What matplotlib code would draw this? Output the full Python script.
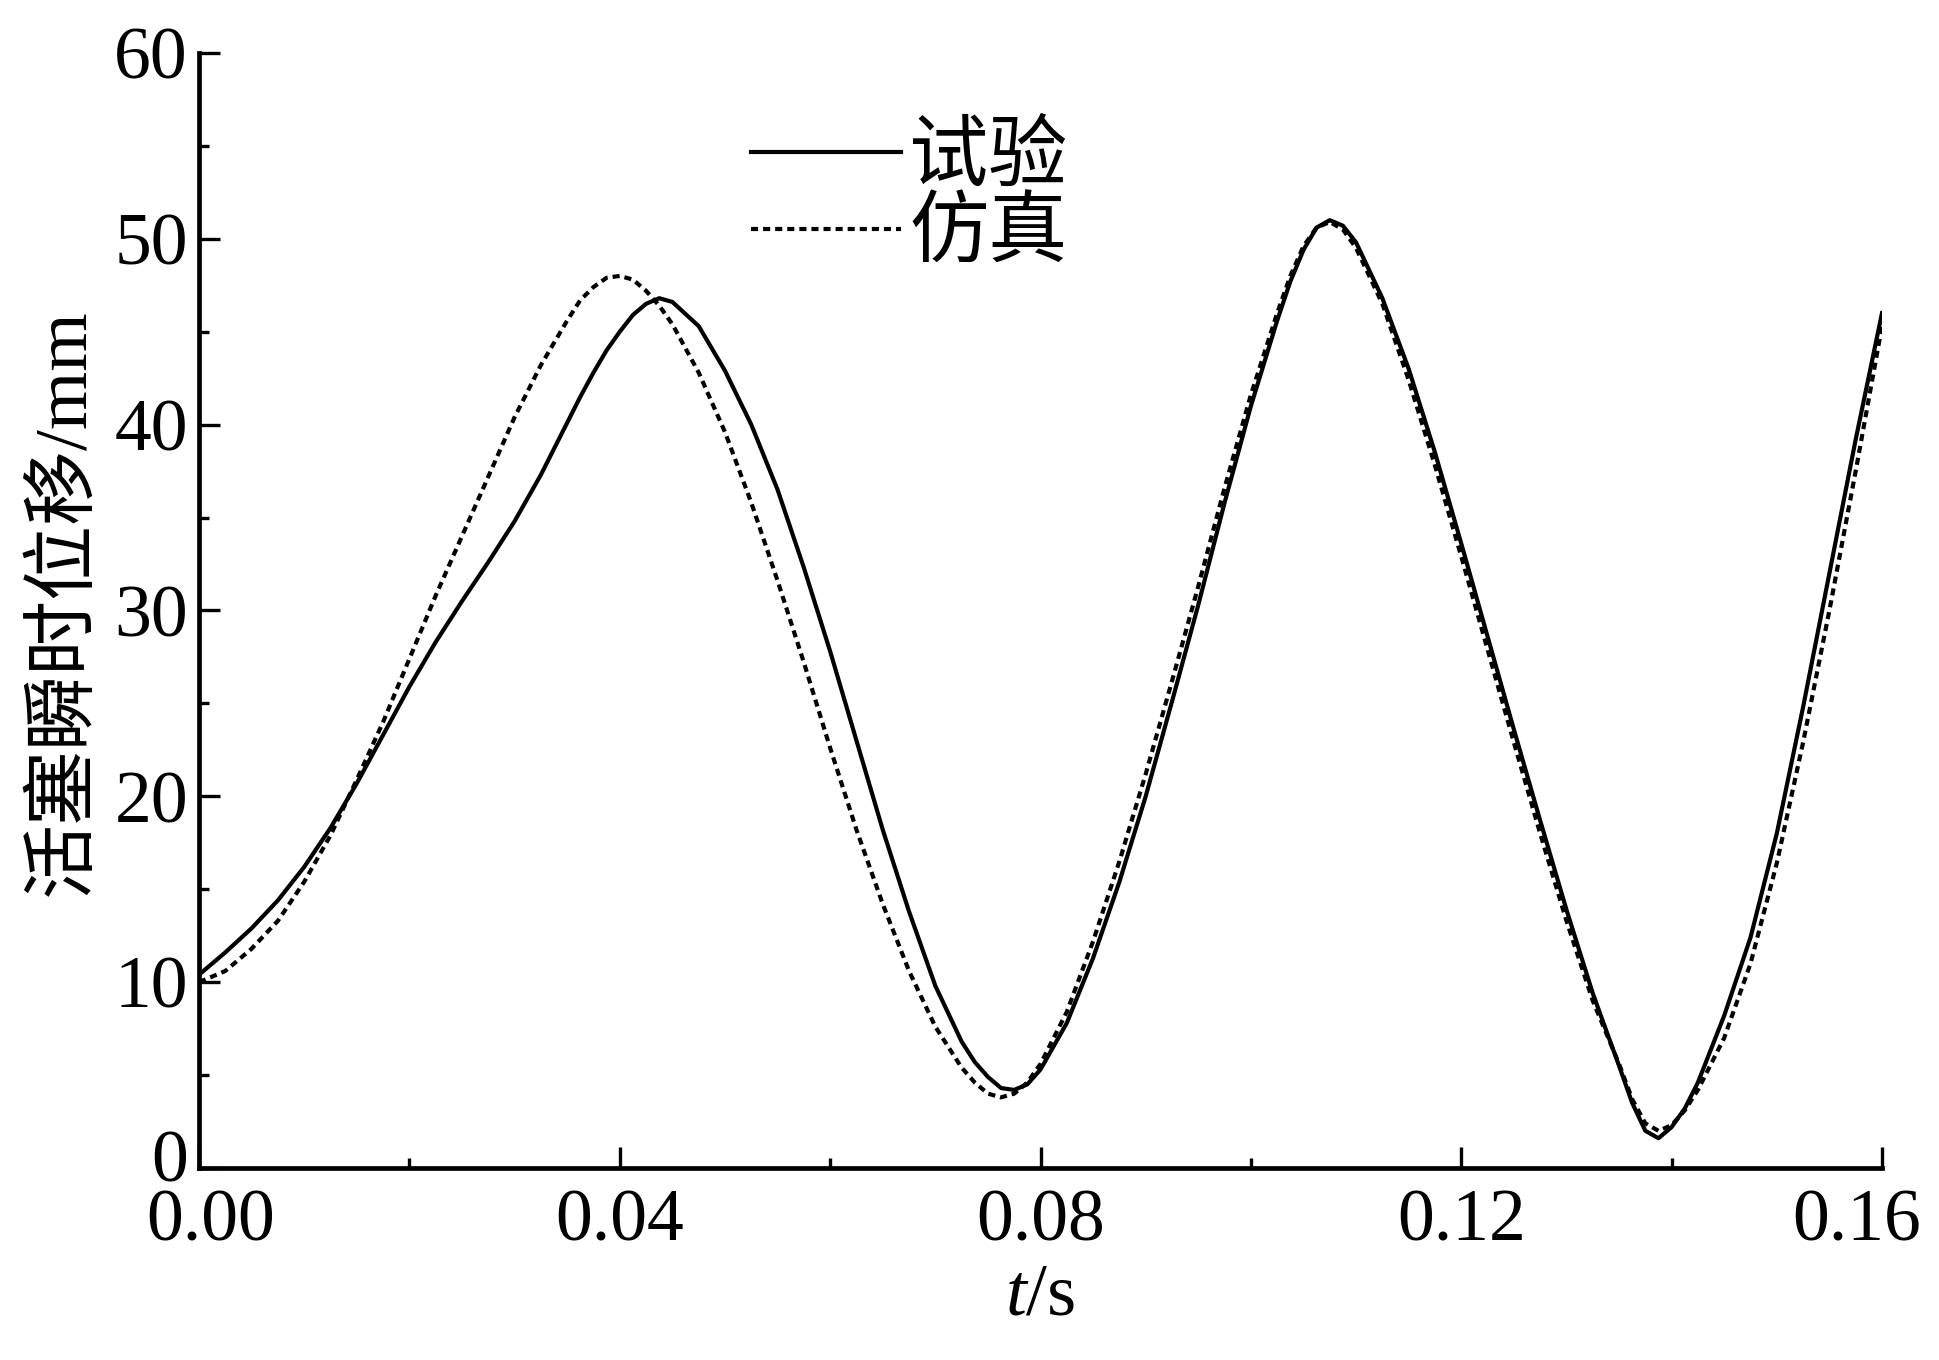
import numpy as np
import matplotlib
matplotlib.use("Agg")
import matplotlib.pyplot as plt
import matplotlib.transforms as mtransforms
from matplotlib.ticker import MultipleLocator, FormatStrFormatter

# ── Data ──────────────────────────────────────────────────────────────────────
t_s = [0.0, 0.0025, 0.005, 0.0075, 0.01, 0.0125, 0.015, 0.0175, 0.02, 0.0225,
       0.025, 0.0275, 0.03, 0.0325, 0.035, 0.03625, 0.0375, 0.03875, 0.04, 0.04125,
       0.0425, 0.04375, 0.045, 0.0475, 0.05, 0.0525, 0.055, 0.0575, 0.06, 0.0625,
       0.065, 0.0675, 0.07, 0.0725, 0.07375, 0.075, 0.07625, 0.0775, 0.07875, 0.08,
       0.0825, 0.085, 0.0875, 0.09, 0.0925, 0.095, 0.0975, 0.1, 0.1025, 0.10375,
       0.105, 0.10625, 0.1075, 0.10875, 0.11, 0.1125, 0.115, 0.1175, 0.12, 0.1225,
       0.125, 0.1275, 0.13, 0.1325, 0.135, 0.13625, 0.1375, 0.13875, 0.14, 0.14125,
       0.1425, 0.145, 0.1475, 0.15, 0.1525, 0.155, 0.1575, 0.16]

test_mm = [10.4, 11.6, 12.9, 14.4, 16.2, 18.3, 20.7, 23.3, 25.9, 28.3,
           30.5, 32.6, 34.8, 37.3, 40.1, 41.5, 42.8, 44.0, 45.0, 45.9,
           46.5, 46.8, 46.6, 45.3, 42.9, 40.0, 36.5, 32.3, 27.8, 23.0,
           18.2, 13.8, 9.8, 6.8, 5.7, 4.9, 4.3, 4.2, 4.5, 5.3,
           7.8, 11.3, 15.4, 20.0, 25.1, 30.3, 35.8, 41.0, 45.6, 47.7,
           49.4, 50.6, 51.0, 50.7, 49.8, 46.8, 43.0, 38.5, 33.6, 28.6,
           23.6, 18.7, 13.9, 9.4, 5.5, 3.5, 2.0, 1.6, 2.2, 3.2,
           4.6, 8.2, 12.4, 18.0, 24.8, 32.0, 39.2, 46.0]

sim_mm = [10.0, 10.6, 11.8, 13.3, 15.4, 17.9, 20.9, 24.0, 27.4, 30.8,
          34.0, 37.2, 40.4, 43.2, 45.6, 46.7, 47.4, 47.9, 48.0, 47.8,
          47.2, 46.4, 45.4, 42.8, 39.6, 35.8, 31.6, 27.2, 22.6, 18.2,
          14.2, 10.6, 7.6, 5.4, 4.6, 4.0, 3.8, 4.0, 4.6, 5.6,
          8.4, 12.2, 16.5, 21.2, 26.2, 31.3, 36.6, 41.6, 46.0, 48.0,
          49.6, 50.6, 50.9, 50.5, 49.5, 46.5, 42.4, 37.8, 32.9, 27.9,
          22.9, 18.0, 13.3, 9.0, 5.6, 3.7, 2.4, 2.0, 2.3, 3.1,
          4.2, 7.0, 11.0, 16.4, 22.9, 30.0, 37.5, 45.3]

labels = ["试验", "仿真"]
x_ticks = [0.00, 0.04, 0.08, 0.12, 0.16]
y_ticks = [0, 10, 20, 30, 40, 50, 60]

# ── Style ─────────────────────────────────────────────────────────────────────
FONTS = ["Liberation Serif", "Noto Sans CJK SC"]
plt.rcParams["font.family"] = FONTS
plt.rcParams["mathtext.fontset"] = "custom"
plt.rcParams["mathtext.it"] = "Liberation Serif:italic"
plt.rcParams["mathtext.rm"] = "Liberation Serif"

fig = plt.figure(figsize=(19.4, 13.6), dpi=100)
ax = fig.add_axes([0.1026, 0.1412, 0.8675, 0.8199])

ax.plot(t_s, test_mm, color="black", lw=3.0, label=labels[0])
ax.plot(t_s, sim_mm, color="black", lw=3.0, linestyle=(0, (1.7, 1.2)), label=labels[1])

ax.set_xlim(0, 0.16)
ax.set_ylim(0, 60)
ax.set_xticks(x_ticks)
ax.set_yticks(y_ticks)
ax.xaxis.set_major_formatter(FormatStrFormatter("%.2f"))
ax.xaxis.set_minor_locator(MultipleLocator(0.02))
ax.yaxis.set_minor_locator(MultipleLocator(5))

for side in ["top", "right"]:
    ax.spines[side].set_visible(False)
for side in ["left", "bottom"]:
    ax.spines[side].set_linewidth(3.4)

ax.tick_params(which="major", direction="in", length=15, width=2.4,
               labelsize=53, pad=8)
ax.tick_params(which="minor", direction="in", length=7, width=2.4)
ax.tick_params(axis="x", which="major", pad=15)

# first/last tick labels sit a bit inward in the original
fig.canvas.draw()
xlabs = ax.get_xticklabels()
xlabs[0].set_transform(xlabs[0].get_transform() +
                       mtransforms.ScaledTranslation(0.12, 0, fig.dpi_scale_trans))
xlabs[-1].set_transform(xlabs[-1].get_transform() +
                        mtransforms.ScaledTranslation(-0.25, 0, fig.dpi_scale_trans))
ylabs = ax.get_yticklabels()
ylabs[0].set_transform(ylabs[0].get_transform() +
                       mtransforms.ScaledTranslation(0, 0.12, fig.dpi_scale_trans))

ax.set_ylabel("活塞瞬时位移/mm", fontsize=54)
ax.yaxis.set_label_coords(-0.059, 0.507)
ax.set_xlabel("$t$/s", fontsize=54)
ax.xaxis.set_label_coords(0.4997, -0.085)

ax.legend(loc="upper left", bbox_to_anchor=(0.328, 0.937), frameon=False,
          fontsize=57, handlelength=1.89, handletextpad=0.11,
          labelspacing=0.05, borderpad=0, borderaxespad=0)

fig.savefig("out.png", dpi=100)
